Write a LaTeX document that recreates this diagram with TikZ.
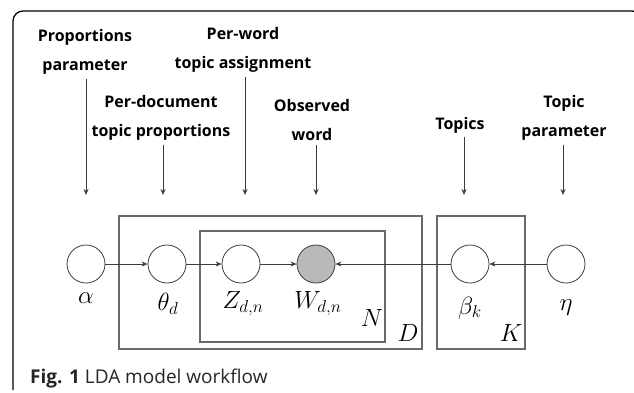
\documentclass[tikz,border=0pt]{standalone}
\usepackage{amsmath,amssymb}
\usepackage{fontspec}
\newfontfamily\labelfont{Open Sans}
\usepackage{tikz}
\usetikzlibrary{arrows.meta,positioning}
\definecolor{edgecolor}{RGB}{60,60,60}
\definecolor{platecolor}{RGB}{105,105,105}
\definecolor{obscolor}{RGB}{185,185,185}

\tikzset{
  latent/.style={circle, draw=edgecolor, thick, minimum size=38pt, inner sep=0pt, fill=white},
  observed/.style={latent, fill=obscolor},
  plate/.style={draw=platecolor, line width=1.1pt},
  desc/.style={font=\labelfont\bfseries\fontsize{16}{29}\selectfont, align=center, inner sep=4pt},
  pointer/.style={-{Stealth[length=6pt,width=5pt]}, edgecolor, line width=0.6pt},
  varlabel/.style={font=\fontsize{24}{26}\selectfont},
  captext/.style={font=\labelfont\fontsize{19}{22}\selectfont, text=black!85, inner sep=0pt}
}

\begin{document}
\begin{tikzpicture}[x=1pt, y=-1pt]
    \useasboundingbox (0,0) rectangle (634,392);

    % Frame
    \draw[line width=1.3pt, rounded corners=10pt] (13,390) -- (13,11) -- (642,11) -- (642,400);

    % Plates
    \draw[plate] (119,216) rectangle (422,349);
    \draw[plate] (200,231) rectangle (385,342);
    \draw[plate] (437,216) rectangle (525,349);
    \node[varlabel] (platen) at (372,318) {$N$};
    \node[varlabel] (plated) at (408,333) {$D$};
    \node[varlabel] (platek) at (511,333) {$K$};

    % Variables
    \node[latent] (alpha) at (86,264) {};
    \node[latent] (theta) at (167,264) {};
    \node[latent] (zdn) at (241,264) {};
    \node[observed] (wdn) at (316,264) {};
    \node[latent] (beta) at (470,264) {};
    \node[latent] (eta) at (566,264) {};

    % Variable names
    \node[varlabel] (alphaname) at (86,298) {$\alpha$};
    \node[varlabel] (thetaname) at (168,304) {$\theta_d$};
    \node[varlabel] (zdnname) at (243,304) {$Z_{d,n}$};
    \node[varlabel] (wdnname) at (318,304) {$W_{d,n}$};
    \node[varlabel] (betaname) at (470,308) {$\beta_k$};
    \node[varlabel] (etaname) at (566,308) {$\eta$};

    % Dependencies
    \draw[pointer] (alpha) -- (theta);
    \draw[pointer] (theta) -- (zdn);
    \draw[pointer] (zdn) -- (wdn);
    \draw[pointer] (beta) -- (wdn);
    \draw[pointer] (eta) -- (beta);

    % Descriptions
    \node[desc] (proptext) at (85,52) {Proportions\\parameter};
    \node[desc] (doctext) at (161,118) {Per-document\\topic proportions};
    \node[desc] (wordtext) at (243,50) {Per-word\\topic assignment};
    \node[desc] (obstext) at (312,120) {Observed\\word};
    \node[desc] (topictext) at (460,125) {Topics};
    \node[desc] (paramtext) at (564,118) {Topic\\parameter};

    \coordinate (alphatip) at (86,195);
    \coordinate (thetatip) at (163,195);
    \coordinate (zdntip) at (245,195);
    \coordinate (wdntip) at (316,195);
    \coordinate (betatip) at (464,195);
    \coordinate (etatip) at (563,195);

    \draw[pointer] (proptext.south -| alphatip) -- (alphatip);
    \draw[pointer] (doctext.south -| thetatip) -- (thetatip);
    \draw[pointer] (wordtext.south -| zdntip) -- (zdntip);
    \draw[pointer] (obstext.south -| wdntip) -- (wdntip);
    \draw[pointer] (topictext.south -| betatip) -- (betatip);
    \draw[pointer] (paramtext.south -| etatip) -- (etatip);

    % Caption
    \coordinate (capstart) at (30,383);
    \node[captext, anchor=base west] (caption) at (capstart) {\textbf{Fig. 1} LDA model workflow};
  \end{tikzpicture}
\end{document}
